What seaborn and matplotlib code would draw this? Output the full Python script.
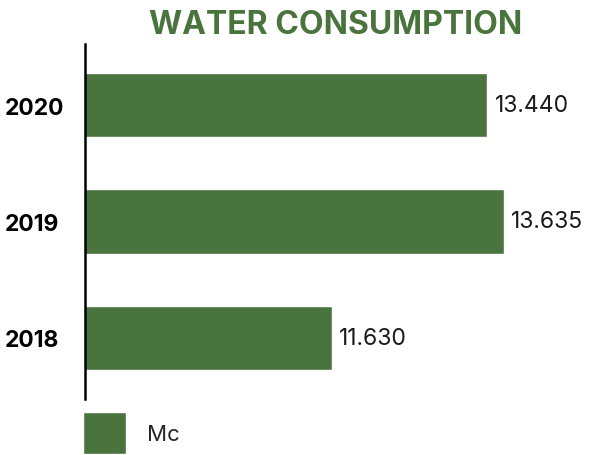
import matplotlib
matplotlib.use("Agg")
import matplotlib.pyplot as plt
import seaborn as sns
import pandas as pd

# Water consumption per year (Mc)
years = ["2020", "2019", "2018"]
consumption = [13.440, 13.635, 11.630]
value_labels = ["13.440", "13.635", "11.630"]
series_name = "Mc"
title = "WATER CONSUMPTION"

GREEN = "#4a743d"

sns.set_theme(style="white")
plt.rcParams["font.family"] = ["Inter", "DejaVu Sans"]

df = pd.DataFrame({"year": years, "value": consumption})

fig = plt.figure(figsize=(6.08, 4.56), dpi=100)
ax = fig.add_axes([85 / 608, 1 - 400 / 456, 475 / 608, 355 / 456])

sns.barplot(data=df, y="year", x="value", orient="h", color=GREEN,
            saturation=1, width=0.55, label=series_name, ax=ax, legend=False)

ax.set_xlim(8.76, 14.29)
ax.set_ylim(2.524, -0.524)

# Only the left spine is drawn
for side in ("top", "right", "bottom"):
    ax.spines[side].set_visible(False)
ax.spines["left"].set_color("black")
ax.spines["left"].set_linewidth(1.8)

ax.set_xticks([])
ax.set_xlabel("")
ax.set_ylabel("")
ax.tick_params(axis="y", length=0, pad=57.6)
for lab in ax.get_yticklabels():
    lab.set_horizontalalignment("left")
    lab.set_fontweight("bold")
    lab.set_fontsize(16.5)
    lab.set_color("black")

ax.bar_label(ax.containers[0], labels=value_labels, padding=5.5,
             fontsize=16.5, color="#1a1a1a", fontweight="normal")

fig.text(336 / 608, 1 - 25 / 456, title, ha="center", va="center",
         fontsize=23, fontweight="bold", color=GREEN)

handles, labels = ax.get_legend_handles_labels()
fig.legend(handles[:1], [series_name], loc="upper left",
           bbox_to_anchor=(83 / 608, 1 - 413 / 456), frameon=False,
           borderpad=0, borderaxespad=0, fontsize=16,
           handlelength=1.93, handleheight=2.55, handletextpad=0.95)

fig.savefig("out.png", dpi=100)
